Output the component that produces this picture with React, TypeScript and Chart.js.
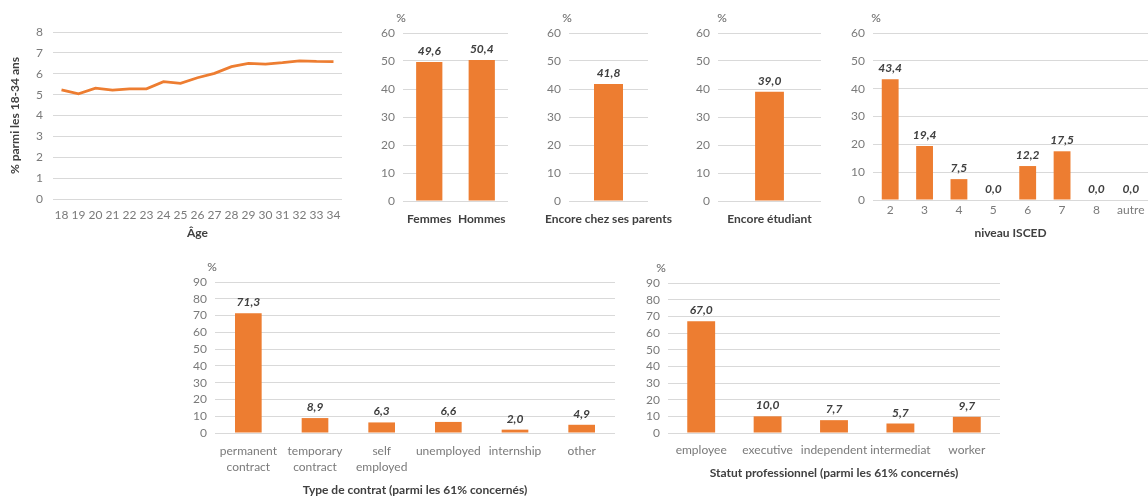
import React, { useEffect, useRef } from "react";
import { Chart, registerables } from "chart.js";

Chart.register(...registerables);

// ---------- data ----------
const ageLabels = ["18", "19", "20", "21", "22", "23", "24", "25", "26", "27", "28", "29", "30", "31", "32", "33", "34"];
const ageValues = [5.23, 5.04, 5.31, 5.22, 5.28, 5.28, 5.62, 5.54, 5.81, 6.02, 6.34, 6.5, 6.46, 6.53, 6.62, 6.59, 6.58];

const sexLabels = ["Femmes", "Hommes"];
const sexValues = [49.6, 50.4];

const parentsLabels = ["Encore chez ses parents"];
const parentsValues = [41.8];

const studentLabels = ["Encore étudiant"];
const studentValues = [39.0];

const iscedLabels = ["2", "3", "4", "5", "6", "7", "8", "autre"];
const iscedValues = [43.4, 19.4, 7.5, 0.0, 12.2, 17.5, 0.0, 0.0];

const contractLabels = [["permanent", "contract"], ["temporary", "contract"], ["self", "employed"], "unemployed", "internship", "other"];
const contractValues = [71.3, 8.9, 6.3, 6.6, 2.0, 4.9];

const statusLabels = ["employee", "executive", "independent", "intermediat", "worker"];
const statusValues = [67.0, 10.0, 7.7, 5.7, 9.7];

const ageTitle = "Âge";
const ageYTitle = "% parmi les 18-34 ans";
const iscedTitle = "niveau ISCED";
const contractTitle = "Type de contrat (parmi les 61% concernés)";
const statusTitle = "Statut professionnel (parmi les 61% concernés)";
const unitLabel = "%";

// ---------- styles ----------
const ORANGE = "#ED7D31";
const GRID = "#d9d9d9";
const TICK = "#7a7a7a";
const DARK = "#404040";
const FONT = "Lato, 'Open Sans', sans-serif";
const FS = 12;

const fmt = (v: number) => v.toFixed(1).replace(".", ",");

const noPad = (s: any) => {
  s.paddingLeft = 0;
  s.paddingRight = 0;
  s.paddingTop = 0;
  s.paddingBottom = 0;
};

function makeBarPlugins(unitDx: number) {
  return [
    {
      id: "barLabels",
      afterDatasetsDraw(chart: any) {
        const ctx = chart.ctx;
        const meta = chart.getDatasetMeta(0);
        const data = chart.data.datasets[0].data as number[];
        ctx.save();
        ctx.font = `italic bold ${FS}px ${FONT}`;
        ctx.fillStyle = DARK;
        ctx.textAlign = "center";
        ctx.textBaseline = "alphabetic";
        meta.data.forEach((el: any, i: number) => {
          ctx.fillText(fmt(data[i]), el.x, el.y - 7);
        });
        ctx.restore();
      },
    },
    {
      id: "unitLabel",
      afterDraw(chart: any) {
        const ctx = chart.ctx;
        const a = chart.chartArea;
        ctx.save();
        ctx.font = `${FS}px ${FONT}`;
        ctx.fillStyle = "#5f5f5f";
        ctx.textAlign = "center";
        ctx.textBaseline = "middle";
        ctx.fillText(unitLabel, a.left + unitDx, a.top - 15);
        ctx.restore();
      },
    },
  ];
}

type BarOpts = {
  labels: any[];
  values: number[];
  max: number;
  yW: number;
  rightPad: number;
  topPad: number;
  xH: number;
  tickPad: number;
  barPct: number;
  boldTicks?: boolean;
  title?: string;
  titlePadBottom?: number;
  unitDx: number;
  lineHeight?: number;
};

function barConfig(p: BarOpts): any {
  return {
    type: "bar",
    data: {
      labels: p.labels,
      datasets: [
        {
          data: p.values,
          backgroundColor: ORANGE,
          borderWidth: 0,
          categoryPercentage: 1,
          barPercentage: p.barPct,
        },
      ],
    },
    options: {
      responsive: false,
      maintainAspectRatio: false,
      animation: false,
      layout: { padding: { left: 0, right: p.rightPad, top: p.topPad, bottom: 0 } },
      plugins: { legend: { display: false }, tooltip: { enabled: false } },
      scales: {
        x: {
          afterFit: (s: any) => {
            s.height = p.xH;
            noPad(s);
          },
          grid: { display: false, drawTicks: false },
          border: { display: false },
          ticks: {
            padding: p.tickPad,
            maxRotation: 0,
            autoSkip: false,
            color: p.boldTicks ? DARK : TICK,
            font: { family: FONT, size: FS, weight: p.boldTicks ? "bold" : "normal", lineHeight: p.lineHeight ?? 1.2 },
          },
          title: p.title
            ? {
                display: true,
                text: p.title,
                color: DARK,
                font: { family: FONT, size: FS, weight: "bold" },
                padding: { top: 0, bottom: p.titlePadBottom ?? 0 },
              }
            : { display: false },
        },
        y: {
          min: 0,
          max: p.max,
          afterFit: (s: any) => {
            s.width = p.yW;
            noPad(s);
          },
          grid: { color: GRID, lineWidth: 1, drawTicks: false },
          border: { display: false },
          ticks: { stepSize: 10, autoSkip: false, padding: 8, color: TICK, font: { family: FONT, size: FS } },
        },
      },
    },
    plugins: makeBarPlugins(p.unitDx),
  };
}

function lineConfig(): any {
  return {
    type: "line",
    data: {
      labels: ageLabels,
      datasets: [
        {
          data: ageValues,
          borderColor: ORANGE,
          borderWidth: 2.75,
          pointRadius: 0,
          tension: 0,
          fill: false,
        },
      ],
    },
    options: {
      responsive: false,
      maintainAspectRatio: false,
      animation: false,
      layout: { padding: { left: 0, right: 8, top: 32, bottom: 0 } },
      plugins: { legend: { display: false }, tooltip: { enabled: false } },
      scales: {
        x: {
          offset: true,
          afterFit: (s: any) => {
            s.height = 46;
            noPad(s);
          },
          grid: { display: false, drawTicks: false },
          border: { display: false },
          ticks: { padding: 9, maxRotation: 0, autoSkip: false, color: TICK, font: { family: FONT, size: FS } },
          title: {
            display: true,
            text: ageTitle,
            color: DARK,
            font: { family: FONT, size: FS, weight: "bold" },
            padding: { top: 0, bottom: 5 },
          },
        },
        y: {
          min: 0,
          max: 8,
          afterFit: (s: any) => {
            s.width = 53;
            noPad(s);
          },
          grid: { color: GRID, lineWidth: 1, drawTicks: false },
          border: { display: false },
          ticks: { stepSize: 1, autoSkip: false, padding: 10, color: TICK, font: { family: FONT, size: FS } },
          title: {
            display: true,
            text: ageYTitle,
            color: DARK,
            font: { family: FONT, size: FS, weight: "bold" },
            padding: { top: 8, bottom: 0 },
          },
        },
      },
    },
  };
}

function ChartBox({ x, y, w, h, build }: { x: number; y: number; w: number; h: number; build: () => any }) {
  const ref = useRef<HTMLCanvasElement>(null);
  useEffect(() => {
    const chart = new Chart(ref.current as HTMLCanvasElement, build());
    return () => chart.destroy();
  }, []);
  return (
    <canvas
      ref={ref}
      width={w}
      height={h}
      style={{ position: "absolute", left: x, top: y, width: w, height: h, display: "block" }}
    />
  );
}

export default function App() {
  return (
    <div style={{ position: "fixed", left: 0, top: 0, width: 1148, height: 497, background: "#fff", overflow: "hidden" }}>
      <ChartBox x={0} y={0} w={350} h={245} build={lineConfig} />
      <ChartBox
        x={360}
        y={0}
        w={152}
        h={245}
        build={() =>
          barConfig({ labels: sexLabels, values: sexValues, max: 60, yW: 43, rightPad: 4, topPad: 33, xH: 44, tickPad: 11, barPct: 0.5, boldTicks: true, unitDx: -2 })
        }
      />
      <ChartBox
        x={525}
        y={0}
        w={160}
        h={245}
        build={() =>
          barConfig({ labels: parentsLabels, values: parentsValues, max: 60, yW: 44, rightPad: 37, topPad: 33, xH: 44, tickPad: 11, barPct: 0.367, boldTicks: true, unitDx: -2 })
        }
      />
      <ChartBox
        x={686}
        y={0}
        w={144}
        h={245}
        build={() =>
          barConfig({ labels: studentLabels, values: studentValues, max: 60, yW: 32, rightPad: 9, topPad: 33, xH: 44, tickPad: 11, barPct: 0.28, boldTicks: true, unitDx: 4 })
        }
      />
      <ChartBox
        x={835}
        y={0}
        w={313}
        h={245}
        build={() =>
          barConfig({ labels: iscedLabels, values: iscedValues, max: 60, yW: 38, rightPad: 0, topPad: 33, xH: 45, tickPad: 3, barPct: 0.49, title: iscedTitle, titlePadBottom: 5, unitDx: 3 })
        }
      />
      <ChartBox
        x={170}
        y={255}
        w={455}
        h={242}
        build={() =>
          barConfig({ labels: contractLabels, values: contractValues, max: 90, yW: 45, rightPad: 10, topPad: 27, xH: 64, tickPad: 10, barPct: 0.4, title: contractTitle, titlePadBottom: 0, unitDx: -3, lineHeight: 1.33 })
        }
      />
      <ChartBox
        x={630}
        y={255}
        w={380}
        h={242}
        build={() =>
          barConfig({ labels: statusLabels, values: statusValues, max: 90, yW: 38, rightPad: 10, topPad: 28, xH: 64, tickPad: 10, barPct: 0.42, title: statusTitle, titlePadBottom: 17, unitDx: -7 })
        }
      />
    </div>
  );
}
